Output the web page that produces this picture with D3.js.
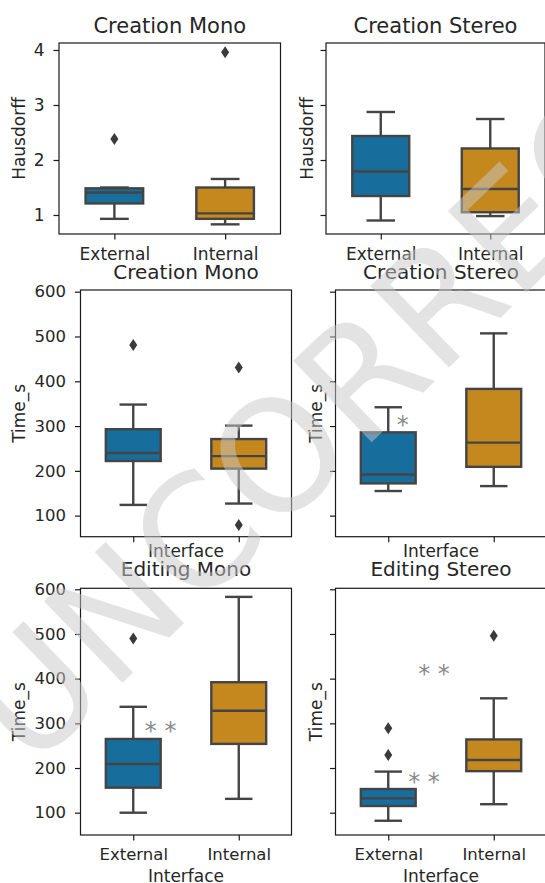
<!DOCTYPE html>
<html>
<head>
<meta charset="utf-8">
<script src="https://cdn.jsdelivr.net/npm/d3@7"></script>
<style>
  body { margin: 0; background: #fff; }
  svg { display: block; }
  text { font-family: "DejaVu Sans", sans-serif; fill: #262626; }
</style>
</head>
<body>
<svg id="chart" width="545" height="883"></svg>
<script>
// ---------------- data ----------------
const categories = ["External", "Internal"];
const hausdorffTicks = [1, 2, 3, 4];
const timeTicks = [100, 200, 300, 400, 500, 600];

// box stats per category: [whiskerLow, q1, median, q3, whiskerHigh]
const creationMonoHausdorff   = [[0.93, 1.21, 1.41, 1.485, 1.50], [0.83, 0.93, 1.03, 1.50, 1.655]];
const creationMonoHausdorffOutliers   = [[2.38], [3.96]];
const creationStereoHausdorff = [[0.90, 1.345, 1.79, 2.436, 2.873], [0.98, 1.05, 1.473, 2.21, 2.745]];
const creationStereoHausdorffOutliers = [[], []];
const creationMonoTime   = [[124, 222, 240, 293, 348], [127, 205, 233, 271, 301]];
const creationMonoTimeOutliers   = [[481], [431, 79]];
const creationStereoTime = [[155, 172, 192, 286, 342], [166, 209, 263, 383, 507]];
const creationStereoTimeOutliers = [[], []];
const editingMonoTime    = [[100, 156, 209, 265, 337], [131, 254, 328, 392, 583]];
const editingMonoTimeOutliers    = [[490], []];
const editingStereoTime  = [[82, 115, 132, 153, 192], [119, 193, 218, 264, 356]];
const editingStereoTimeOutliers  = [[289, 229], [496]];

// significance marks: panel index, text, offset from "External" (in category steps), value
const significanceMarks = [
  { panel: 3, text: "*",   offset: 0.137, value: 315 },
  { panel: 4, text: "* *", offset: 0.26,  value: 296 },
  { panel: 5, text: "* *", offset: 0.434, value: 423 },
  { panel: 5, text: "* *", offset: 0.339, value: 183 }
];

const boxColors = ["#176e9c", "#c4881f"];
const lineGray = "#444444";

// ---------------- layout ----------------
const panels = [
  { title: "Creation Mono",   stats: creationMonoHausdorff,   outliers: creationMonoHausdorffOutliers,
    ylabel: "Hausdorff", ticks: hausdorffTicks, domain: [0.6545, 4.127],
    x: [59, 280.5], y: [43, 234], yTickLabels: true, xTickLabels: true, xTitle: false,
    titleDy: 10, titleFont: 21, ylabX: 25, tickFont: 17, xTickFont: 17 },
  { title: "Creation Stereo", stats: creationStereoHausdorff, outliers: creationStereoHausdorffOutliers,
    ylabel: "Hausdorff", ticks: hausdorffTicks, domain: [0.6545, 4.127],
    x: [326, 545], y: [43, 234], yTickLabels: false, xTickLabels: true, xTitle: false,
    titleDy: 10, titleFont: 21, ylabX: 313, tickFont: 17, xTickFont: 17 },
  { title: "Creation Mono",   stats: creationMonoTime,   outliers: creationMonoTimeOutliers,
    ylabel: "Time_s", ticks: timeTicks, domain: [53, 603.8],
    x: [80.5, 291.5], y: [290, 536.7], yTickLabels: true, xTickLabels: false, xTitle: true,
    titleDy: 11.5, titleFont: 20, ylabX: 24.5, tickFont: 16.5, xTickFont: 16.5, xTitleY: 556.5 },
  { title: "Creation Stereo", stats: creationStereoTime, outliers: creationStereoTimeOutliers,
    ylabel: "Time_s", ticks: timeTicks, domain: [53, 603.8],
    x: [335.5, 546.5], y: [290, 536.7], yTickLabels: false, xTickLabels: false, xTitle: true,
    titleDy: 11.5, titleFont: 20, ylabX: 322, tickFont: 16.5, xTickFont: 16.5, xTitleY: 556.5 },
  { title: "Editing Mono",    stats: editingMonoTime,    outliers: editingMonoTimeOutliers,
    ylabel: "Time_s", ticks: timeTicks, domain: [50.1, 602.2],
    x: [80.5, 291.5], y: [588.3, 835], yTickLabels: true, xTickLabels: true, xTitle: true,
    titleDy: 12, titleFont: 20, ylabX: 24.5, tickFont: 16.5, xTickFont: 16.5, xTitleY: 882 },
  { title: "Editing Stereo",  stats: editingStereoTime,  outliers: editingStereoTimeOutliers,
    ylabel: "Time_s", ticks: timeTicks, domain: [50.1, 602.2],
    x: [335.5, 546.5], y: [588.3, 835], yTickLabels: false, xTickLabels: true, xTitle: true,
    titleDy: 12, titleFont: 20, ylabX: 322, tickFont: 16.5, xTickFont: 16.5, xTitleY: 882 }
];

const svg = d3.select("#chart");

panels.forEach((p, pi) => {
  const g = svg.append("g");
  const xs = d3.scalePoint().domain(categories).range(p.x).padding(0.5);
  const ys = d3.scaleLinear().domain(p.domain).range([p.y[1], p.y[0]]);
  const step = xs.step();
  const bw = step * 0.52;

  // boxes
  categories.forEach((c, ci) => {
    const [wlo, q1, med, q3, whi] = p.stats[ci];
    const cx = xs(c);
    const bg = g.append("g");
    bg.append("line").attr("x1", cx).attr("x2", cx).attr("y1", ys(q3)).attr("y2", ys(whi))
      .attr("stroke", lineGray).attr("stroke-width", 2.4);
    bg.append("line").attr("x1", cx).attr("x2", cx).attr("y1", ys(q1)).attr("y2", ys(wlo))
      .attr("stroke", lineGray).attr("stroke-width", 2.4);
    [wlo, whi].forEach(v => {
      bg.append("line").attr("x1", cx - bw / 4).attr("x2", cx + bw / 4)
        .attr("y1", ys(v)).attr("y2", ys(v))
        .attr("stroke", lineGray).attr("stroke-width", 2.4);
    });
    bg.append("rect").attr("x", cx - bw / 2).attr("width", bw)
      .attr("y", ys(q3)).attr("height", ys(q1) - ys(q3))
      .attr("fill", boxColors[ci]).attr("stroke", lineGray).attr("stroke-width", 2.4);
    bg.append("line").attr("x1", cx - bw / 2).attr("x2", cx + bw / 2)
      .attr("y1", ys(med)).attr("y2", ys(med))
      .attr("stroke", lineGray).attr("stroke-width", 2.4);
    p.outliers[ci].forEach(v => {
      bg.append("path")
        .attr("d", "M0,-6L4,0L0,6L-4,0Z")
        .attr("transform", `translate(${cx},${ys(v)})`)
        .attr("fill", "#3a3a3a");
    });
  });

  // frame
  g.append("rect").attr("x", p.x[0]).attr("y", p.y[0])
    .attr("width", p.x[1] - p.x[0]).attr("height", p.y[1] - p.y[0])
    .attr("fill", "none").attr("stroke", "#1a1a1a").attr("stroke-width", 1.2);

  // y axis
  const yAxis = d3.axisLeft(ys).tickValues(p.ticks).tickSize(5.5).tickPadding(9)
    .tickFormat(p.yTickLabels ? d3.format("d") : () => "");
  const ya = g.append("g").attr("transform", `translate(${p.x[0]},0)`).call(yAxis);
  ya.select(".domain").remove();
  ya.selectAll(".tick line").attr("stroke", "#1a1a1a").attr("stroke-width", 1.2);
  ya.selectAll(".tick text").attr("font-size", p.tickFont).attr("fill", "#262626")
    .attr("font-family", "DejaVu Sans");

  // x axis
  const xAxis = d3.axisBottom(xs).tickSize(5.5).tickPadding(8)
    .tickFormat(p.xTickLabels ? (d => d) : () => "");
  const xa = g.append("g").attr("transform", `translate(0,${p.y[1]})`).call(xAxis);
  xa.select(".domain").remove();
  xa.selectAll(".tick line").attr("stroke", "#1a1a1a").attr("stroke-width", 1.2);
  xa.selectAll(".tick text").attr("font-size", p.xTickFont).attr("fill", "#262626")
    .attr("font-family", "DejaVu Sans");

  // title
  g.append("text").attr("x", (p.x[0] + p.x[1]) / 2).attr("y", p.y[0] - p.titleDy)
    .attr("text-anchor", "middle").attr("font-size", p.titleFont).text(p.title);

  // y label
  g.append("text")
    .attr("transform", `translate(${p.ylabX},${(p.y[0] + p.y[1]) / 2}) rotate(-90)`)
    .attr("text-anchor", "middle").attr("font-size", 17).text(p.ylabel);

  // x label
  if (p.xTitle) {
    g.append("text").attr("x", (p.x[0] + p.x[1]) / 2).attr("y", p.xTitleY)
      .attr("text-anchor", "middle").attr("font-size", 17).text("Interface");
  }

  // significance marks
  significanceMarks.filter(m => m.panel === pi).forEach(m => {
    g.append("text")
      .attr("x", xs(categories[0]) + m.offset * step)
      .attr("y", ys(m.value))
      .attr("dy", "0.58em")
      .attr("text-anchor", "middle")
      .attr("font-size", 24)
      .style("fill", "#8a8a8a")
      .text(m.text);
  });
});

// watermark
svg.append("text")
  .attr("transform", "translate(30,772) rotate(-44)")
  .attr("font-size", 155)
  .style("fill", "#c8c8c8")
  .style("fill-opacity", 0.5)
  .text("UNCORRECTED PROOF");
</script>
</body>
</html>
